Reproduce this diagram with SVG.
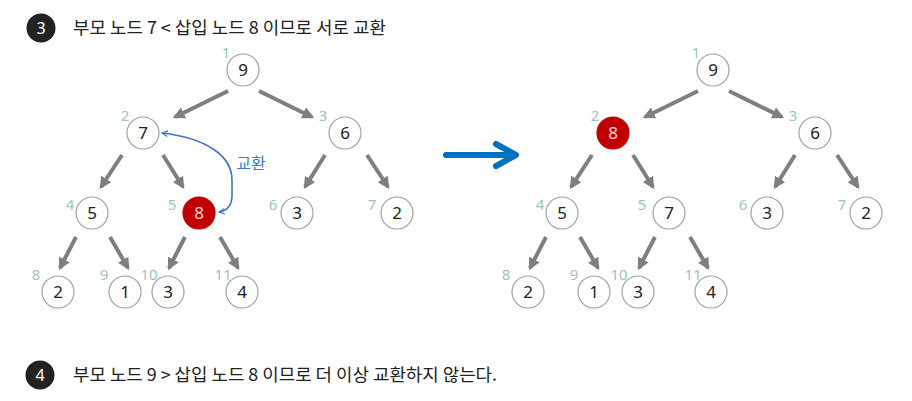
<svg xmlns="http://www.w3.org/2000/svg" width="912" height="401" viewBox="0 0 912 401">
<style>
.n{fill:#fff;stroke:#a0a0a0;stroke-width:1.2}
.r{fill:#c00000;stroke:#c00000;stroke-width:1.2}
.v{font-family:"Noto Sans","Noto Sans CJK KR",sans-serif;font-size:17px;fill:#222;text-anchor:middle}
.vr{font-family:"Noto Sans","Noto Sans CJK KR",sans-serif;font-size:17px;fill:#f4d8d8;text-anchor:middle}
.i{font-family:"Noto Sans","Noto Sans CJK KR",sans-serif;font-size:15px;fill:#9cc3c6;text-anchor:middle}
.e{stroke:#7f7f7f;stroke-width:4;fill:none;marker-end:url(#ah)}
.h{font-family:"Noto Sans CJK KR","Noto Sans",sans-serif;font-size:17.5px;fill:#222}
.b{fill:#222}
.bt{font-family:"Noto Sans","Noto Sans CJK KR",sans-serif;font-size:16px;fill:#fff;text-anchor:middle}
</style>
<defs>
<marker id="ah" viewBox="0 0 10 10" refX="8" refY="5" markerWidth="3" markerHeight="3" orient="auto" markerUnits="strokeWidth">
<path d="M0,0 L10,5 L0,10 z" fill="#7f7f7f"/>
</marker>
<marker id="sw" viewBox="0 0 10 10" refX="9" refY="5" markerWidth="7" markerHeight="7" orient="auto-start-reverse" markerUnits="userSpaceOnUse">
<path d="M1,1 L9,5 L1,9" fill="none" stroke="#4472c4" stroke-width="1.6"/>
</marker>
</defs>
<rect width="912" height="401" fill="#fff"/>

<g id="step3">
<circle class="b" cx="41" cy="28" r="14.5"/>
<text class="bt" x="41" y="34">3</text>
<text class="h" x="73" y="34" textLength="313" lengthAdjust="spacingAndGlyphs">부모 노드 7 &lt; 삽입 노드 8 이므로 서로 교환</text>
</g>
<g id="step4">
<circle class="b" cx="40" cy="375" r="14.5"/>
<text class="bt" x="40" y="381">4</text>
<text class="h" x="73" y="381" textLength="424" lengthAdjust="spacingAndGlyphs">부모 노드 9 &gt; 삽입 노드 8 이므로 더 이상 교환하지 않는다.</text>
</g>

<g id="connectors">
<line class="e" x1="228" y1="91" x2="175" y2="117"/>
<line class="e" x1="259" y1="91" x2="312" y2="117"/>
<line class="e" x1="122" y1="155" x2="101" y2="187"/>
<line class="e" x1="163" y1="155" x2="183" y2="187"/>
<line class="e" x1="325" y1="155" x2="305" y2="187"/>
<line class="e" x1="367" y1="155" x2="388" y2="187"/>
<line class="e" x1="76" y1="237" x2="60" y2="268"/>
<line class="e" x1="110" y1="237" x2="128" y2="268"/>
<line class="e" x1="185" y1="237" x2="169" y2="268"/>
<line class="e" x1="220" y1="237" x2="238" y2="268"/>

<line class="e" x1="698" y1="91" x2="645" y2="117"/>
<line class="e" x1="729" y1="91" x2="782" y2="117"/>
<line class="e" x1="592" y1="155" x2="571" y2="187"/>
<line class="e" x1="633" y1="155" x2="653" y2="187"/>
<line class="e" x1="795" y1="155" x2="775" y2="187"/>
<line class="e" x1="837" y1="155" x2="858" y2="187"/>
<line class="e" x1="546" y1="237" x2="530" y2="268"/>
<line class="e" x1="580" y1="237" x2="598" y2="268"/>
<line class="e" x1="655" y1="237" x2="639" y2="268"/>
<line class="e" x1="690" y1="237" x2="708" y2="268"/>

<path d="M162,133 C205,138 232,155 232,180 L232,196 C232,205 227,211 219,212" fill="none" stroke="#4472c4" stroke-width="1.6" marker-start="url(#sw)" marker-end="url(#sw)"/>
<text x="251" y="169" font-family="Noto Sans CJK KR,sans-serif" font-size="16" fill="#2e7fd0" text-anchor="middle">교환</text>

<g id="bigarrow" stroke="#0070c0" stroke-width="6" fill="none" stroke-linecap="round" stroke-linejoin="round">
<line x1="446" y1="155" x2="514" y2="155"/>
<polyline points="496,144 516,155 496,166"/>
</g>
</g>

<g id="L1"><circle class="n" cx="243" cy="70" r="16"/><text class="v" x="243" y="76">9</text><text class="i" x="226" y="58">1</text></g>
<g id="L2"><circle class="n" cx="143" cy="133" r="16"/><text class="v" x="143" y="139">7</text><text class="i" x="125" y="121">2</text></g>
<g id="L3"><circle class="n" cx="345" cy="133" r="16"/><text class="v" x="345" y="139">6</text><text class="i" x="323" y="121">3</text></g>
<g id="L4"><circle class="n" cx="92" cy="213" r="16"/><text class="v" x="92" y="219">5</text><text class="i" x="70" y="210">4</text></g>
<g id="L5"><circle class="r" cx="199" cy="213" r="16"/><text class="vr" x="199" y="219">8</text><text class="i" x="172" y="210">5</text></g>
<g id="L6"><circle class="n" cx="297" cy="213" r="16"/><text class="v" x="297" y="219">3</text><text class="i" x="273" y="210">6</text></g>
<g id="L7"><circle class="n" cx="397" cy="213" r="16"/><text class="v" x="397" y="219">2</text><text class="i" x="372" y="210">7</text></g>
<g id="L8"><circle class="n" cx="58" cy="292" r="16"/><text class="v" x="58" y="298">2</text><text class="i" x="36" y="280">8</text></g>
<g id="L9"><circle class="n" cx="125" cy="292" r="16"/><text class="v" x="125" y="298">1</text><text class="i" x="104" y="280">9</text></g>
<g id="L10"><circle class="n" cx="168" cy="292" r="16"/><text class="v" x="168" y="298">3</text><text class="i" x="149" y="280">10</text></g>
<g id="L11"><circle class="n" cx="242" cy="292" r="16"/><text class="v" x="242" y="298">4</text><text class="i" x="223" y="280">11</text></g>

<g id="R1"><circle class="n" cx="713" cy="70" r="16"/><text class="v" x="713" y="76">9</text><text class="i" x="696" y="58">1</text></g>
<g id="R2"><circle class="r" cx="613" cy="133" r="16"/><text class="vr" x="613" y="139">8</text><text class="i" x="595" y="121">2</text></g>
<g id="R3"><circle class="n" cx="815" cy="133" r="16"/><text class="v" x="815" y="139">6</text><text class="i" x="793" y="121">3</text></g>
<g id="R4"><circle class="n" cx="562" cy="213" r="16"/><text class="v" x="562" y="219">5</text><text class="i" x="540" y="210">4</text></g>
<g id="R5"><circle class="n" cx="669" cy="213" r="16"/><text class="v" x="669" y="219">7</text><text class="i" x="642" y="210">5</text></g>
<g id="R6"><circle class="n" cx="767" cy="213" r="16"/><text class="v" x="767" y="219">3</text><text class="i" x="743" y="210">6</text></g>
<g id="R7"><circle class="n" cx="866" cy="213" r="16"/><text class="v" x="866" y="219">2</text><text class="i" x="842" y="210">7</text></g>
<g id="R8"><circle class="n" cx="528" cy="292" r="16"/><text class="v" x="528" y="298">2</text><text class="i" x="506" y="280">8</text></g>
<g id="R9"><circle class="n" cx="594" cy="292" r="16"/><text class="v" x="594" y="298">1</text><text class="i" x="574" y="280">9</text></g>
<g id="R10"><circle class="n" cx="638" cy="292" r="16"/><text class="v" x="638" y="298">3</text><text class="i" x="619" y="280">10</text></g>
<g id="R11"><circle class="n" cx="711" cy="292" r="16"/><text class="v" x="711" y="298">4</text><text class="i" x="693" y="280">11</text></g>
</svg>
